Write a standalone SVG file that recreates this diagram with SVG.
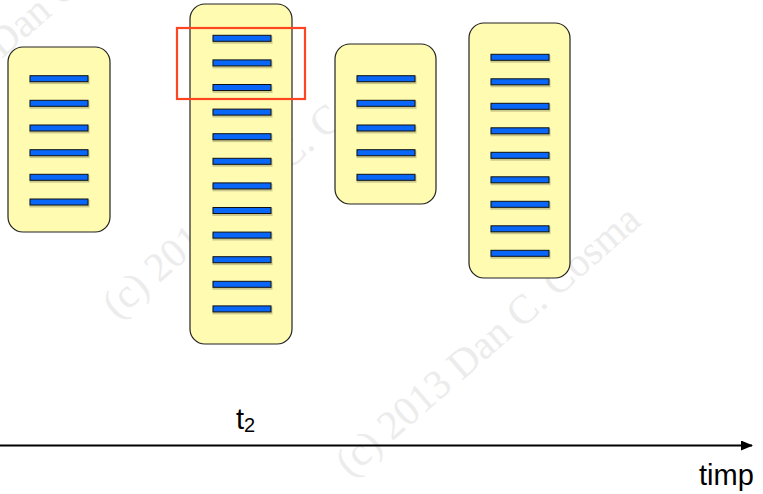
<svg xmlns="http://www.w3.org/2000/svg" xmlns:xlink="http://www.w3.org/1999/xlink" width="763" height="494" viewBox="0 0 763 494">
<style>
.wm{font-family:"Liberation Serif","Times New Roman",serif;font-size:41px;fill:#ececec}
.box{fill:#fffbb0;stroke:#222;stroke-width:1.2}
.bar{fill:#0866f8;stroke:#111;stroke-width:1}
.sh{fill:#8a8a60;opacity:0.45}
.lbl{font-family:"Liberation Sans",Arial,Helvetica,sans-serif;fill:#000}
</style>
<defs>
<g id="b"><rect class="sh" x="-0.5" y="-2.2" width="60" height="7.6"/><rect class="bar" x="0" y="-3" width="58" height="6"/></g>
<marker id="ah" markerWidth="12" markerHeight="10" refX="11" refY="5" orient="auto" markerUnits="userSpaceOnUse"><path d="M0,0 L12,5 L0,10 Z" fill="#000"/></marker>
</defs>
<g id="watermark">
<text class="wm" transform="translate(350,478) rotate(-41)">(c) 2013 Dan C. Cosma</text>
<text class="wm" transform="translate(117,320) rotate(-41)">(c) 2013 Dan C. Cosma</text>
<text class="wm" transform="translate(-110,156) rotate(-41)">(c) 2013 Dan C. Cosma</text>
</g>
<g id="node1">
<rect class="box" x="8" y="47" width="102" height="185" rx="15"/>
<use xlink:href="#b" x="30" y="78.7"/>
<use xlink:href="#b" x="30" y="103.3"/>
<use xlink:href="#b" x="30" y="128"/>
<use xlink:href="#b" x="30" y="152.7"/>
<use xlink:href="#b" x="30" y="177.3"/>
<use xlink:href="#b" x="30" y="202"/>
</g>
<g id="node2">
<rect class="box" x="190" y="4" width="102" height="340" rx="15"/>
<use xlink:href="#b" x="213" y="38.3"/>
<use xlink:href="#b" x="213" y="62.9"/>
<use xlink:href="#b" x="213" y="87.5"/>
<use xlink:href="#b" x="213" y="112.1"/>
<use xlink:href="#b" x="213" y="136.7"/>
<use xlink:href="#b" x="213" y="161.3"/>
<use xlink:href="#b" x="213" y="185.9"/>
<use xlink:href="#b" x="213" y="210.5"/>
<use xlink:href="#b" x="213" y="235.1"/>
<use xlink:href="#b" x="213" y="259.7"/>
<use xlink:href="#b" x="213" y="284.3"/>
<use xlink:href="#b" x="213" y="308.9"/>
</g>
<g id="node3">
<rect class="box" x="335" y="44" width="101" height="160" rx="15"/>
<use xlink:href="#b" x="357" y="78.7"/>
<use xlink:href="#b" x="357" y="103.3"/>
<use xlink:href="#b" x="357" y="128"/>
<use xlink:href="#b" x="357" y="152.7"/>
<use xlink:href="#b" x="357" y="177.3"/>
</g>
<g id="node4">
<rect class="box" x="469" y="23" width="101" height="255" rx="15"/>
<use xlink:href="#b" x="491" y="57.3"/>
<use xlink:href="#b" x="491" y="81.8"/>
<use xlink:href="#b" x="491" y="106.3"/>
<use xlink:href="#b" x="491" y="130.8"/>
<use xlink:href="#b" x="491" y="155.3"/>
<use xlink:href="#b" x="491" y="179.8"/>
<use xlink:href="#b" x="491" y="204.3"/>
<use xlink:href="#b" x="491" y="228.8"/>
<use xlink:href="#b" x="491" y="253.3"/>
</g>
<g id="highlight">
<rect x="177" y="28" width="128" height="71" fill="none" stroke="#ff4422" stroke-width="2.2"/>
</g>
<g id="connectors">
<line x1="0" y1="445.5" x2="752" y2="445.5" stroke="#000" stroke-width="2" marker-end="url(#ah)"/>
</g>
<g id="labels">
<text class="lbl" x="236" y="429" font-size="29">t<tspan font-size="20" dy="3">2</tspan></text>
<text class="lbl" x="699" y="485" font-size="29">timp</text>
</g>
</svg>
